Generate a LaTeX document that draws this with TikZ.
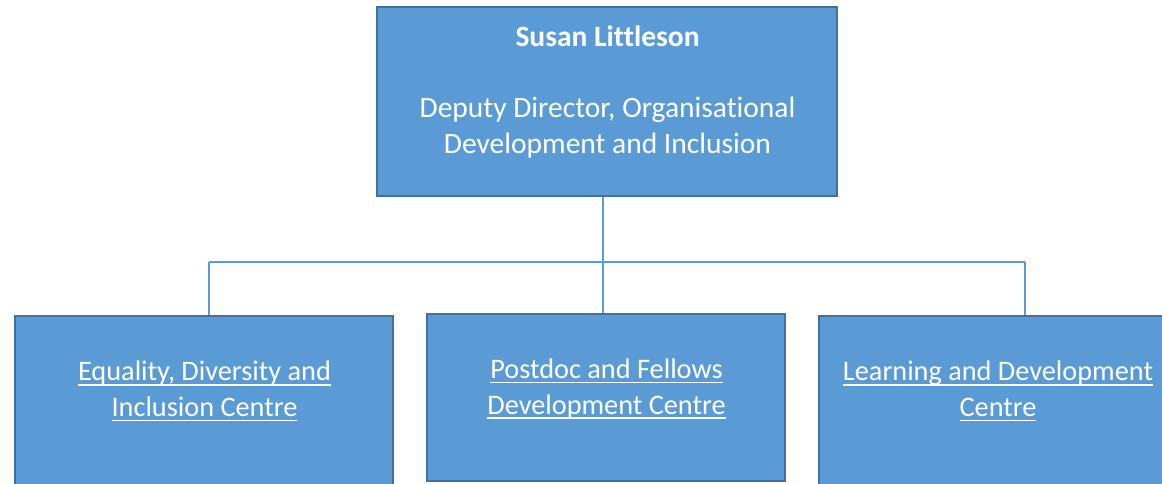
\documentclass[tikz,border=0pt]{standalone}
\usepackage{fontspec}
\setmainfont{Carlito}[Ligatures=NoCommon]
\usetikzlibrary{positioning,calc}
\newcommand{\lnk}[1]{\setbox0\hbox{#1}\rlap{\rule[-2.3pt]{\wd0}{0.65pt}}\box0}
\definecolor{boxblue}{HTML}{5B9BD5}
\definecolor{boxedge}{HTML}{41719C}
\tikzset{
	unit/.style={draw=boxedge, line width=1.2pt, fill=boxblue, inner sep=0pt},
	caption/.style={text=white, align=center, inner sep=0pt,
		font=\fontsize{14.15}{17.9}\selectfont},
	headcaption/.style={caption, font=\fontsize{14.75}{17.75}\selectfont},
	link/.style={draw=boxblue, line width=0.75pt}
}
\begin{document}
\begin{tikzpicture}[x=0.5pt,y=-0.5pt]
	\useasboundingbox (0,0) rectangle (1162,483);
	\clip (0,0) rectangle (1162,483);

	\node[unit, minimum width=230pt, minimum height=94.5pt] 
		  (head) at (607,101.5) {};
	\node[headcaption, anchor=base] 
		  (head-txt) at (607.5,153) 
		  {\textbf{Susan Littleson}\\[17.75pt]
		   Deputy Director, Organisational\\
		   Development and Inclusion};

	\node[unit, minimum width=189pt, minimum height=85pt] 
		  (edi) at (204,401) {};
	\node[caption, anchor=base] 
		  (edi-txt) at (204.5,416.7) 
		  {\lnk{Equality, Diversity and}\\\lnk{Inclusion Centre}};
	\node[unit, minimum width=179pt, minimum height=83.5pt] 
		  (pfdc) at (606,397.5) {};
	\node[caption, anchor=base] 
		  (pfdc-txt) at (606.5,414) 
		  {\lnk{Postdoc and Fellows}\\\lnk{Development Centre}};
	\node[unit, minimum width=179pt, minimum height=85pt] 
		  (ldc) at (998,401) {};
	\node[caption, anchor=base] 
		  (ldc-txt) at (998,416.7) 
		  {\lnk{Learning and Development}\\\lnk{Centre}};

	\coordinate (j1) at (209,262);
	\coordinate (j2) at (603,262);
	\coordinate (j3) at (1025,262);
	\draw[link]  (head.south -| j2) -- (j2);
	\draw[link]  (j1) -- (j3);
	\draw[link]  (j1) -- (edi.north -| j1);
	\draw[link]  (j2) -- (pfdc.north -| j2);
	\draw[link]  (j3) -- (ldc.north -| j3);
\end{tikzpicture}
\end{document}
